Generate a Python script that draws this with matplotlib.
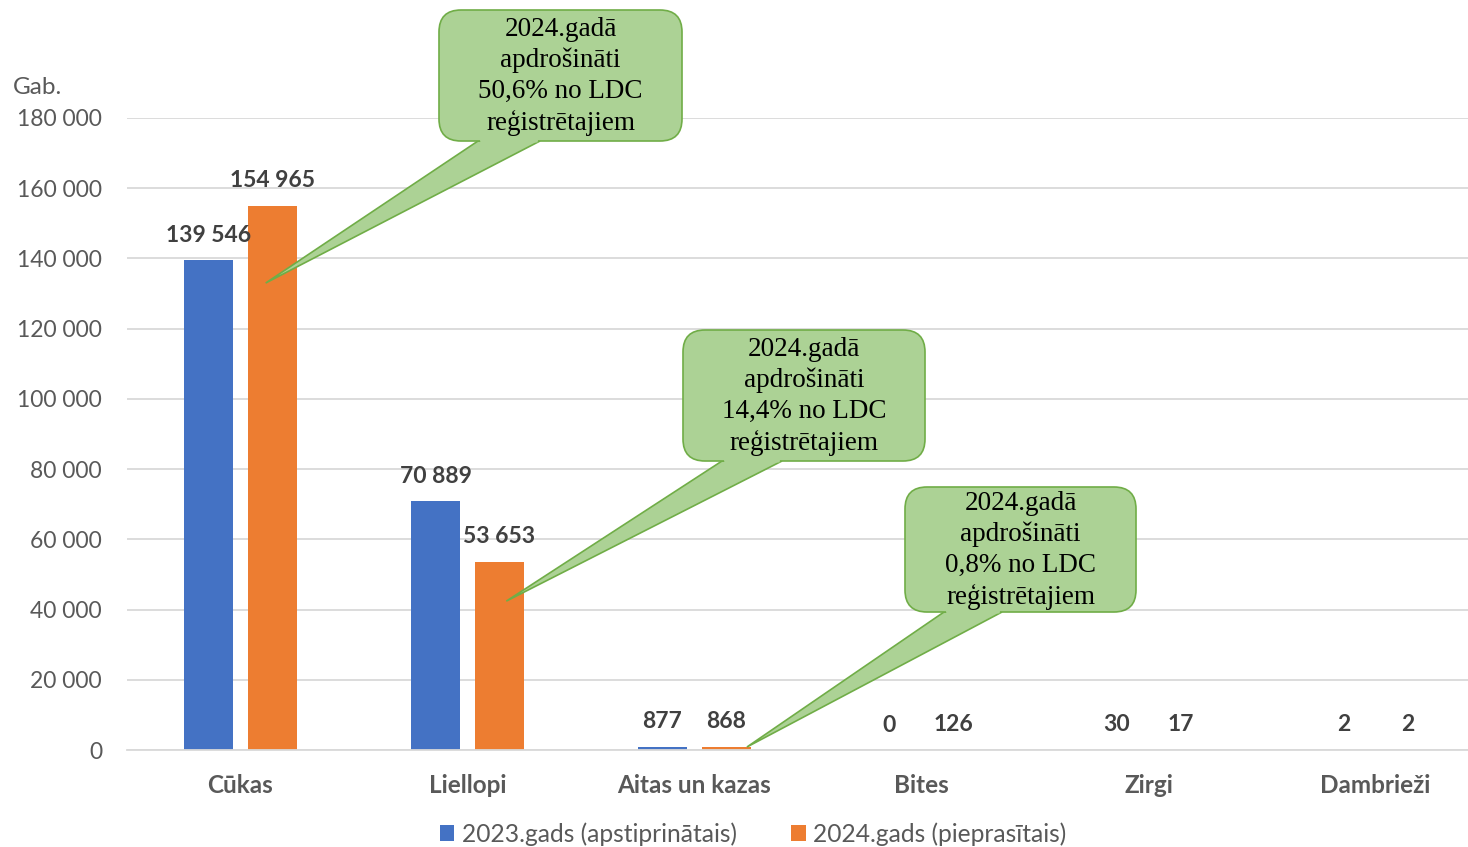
import numpy as np
import matplotlib
matplotlib.use("Agg")
import matplotlib.pyplot as plt
import matplotlib.transforms as mtransforms
from matplotlib.patches import FancyBboxPatch, Polygon

# data
categories = ["Cūkas", "Liellopi", "Aitas un kazas", "Bites", "Zirgi", "Dambrieži"]
values_2023 = [139546, 70889, 877, 0, 30, 2]
values_2024 = [154965, 53653, 868, 126, 17, 2]
series_names = ["2023.gads (apstiprinātais)", "2024.gads (pieprasītais)"]
y_ticks = [0, 20000, 40000, 60000, 80000, 100000, 120000, 140000, 160000, 180000]
callout_texts = [
    "2024.gadā\napdrošināti\n50,6% no LDC\nreģistrētajiem",
    "2024.gadā\napdrošināti\n14,4% no LDC\nreģistrētajiem",
    "2024.gadā\napdrošināti\n0,8% no LDC\nreģistrētajiem",
]

BLUE = "#4472C4"
ORANGE = "#ED7D31"
GRID = "#D9D9D9"
TXT = "#595959"
LBL = "#404040"
BOX_FILL = "#ACD295"
BOX_EDGE = "#70AD47"

W, H = 1468, 847
plt.rcParams['font.family'] = ['Lato', 'DejaVu Sans']

fig = plt.figure(figsize=(W / 100, H / 100), dpi=100)
ax = fig.add_axes([127 / W, 1 - 750 / H, 1362 / W, 632 / H])

x = np.arange(len(categories))
bw = 0.22
off = 0.141
b1 = ax.bar(x - off, values_2023, bw, color=BLUE, label=series_names[0], zorder=2)
b2 = ax.bar(x + off, values_2024, bw, color=ORANGE, label=series_names[1], zorder=2)

for bars, vals in ((b1, values_2023), (b2, values_2024)):
    for rect, v in zip(bars, vals):
        ax.annotate(f"{v:,}".replace(",", " "),
                    (rect.get_x() + rect.get_width() / 2, v),
                    xytext=(0, 18), textcoords="offset points",
                    ha="center", va="center", fontsize=16.5, fontweight="bold",
                    color=LBL, zorder=3)

ax.set_xlim(-0.5, len(categories) - 0.5)
ax.set_ylim(0, 180000)
ax.set_yticks(y_ticks)
ax.set_yticklabels([f"{t:,}".replace(",", " ") for t in y_ticks])
ax.set_xticks(x)
ax.set_xticklabels(categories, fontweight="bold")
ax.tick_params(axis="y", length=0, labelsize=16.5, labelcolor=TXT, pad=18)
ax.tick_params(axis="x", length=0, labelsize=17.5, labelcolor=TXT, pad=17)
ax.yaxis.grid(True, color=GRID, linewidth=1.3, zorder=0)
ax.set_axisbelow(True)
for side in ("top", "right", "left"):
    ax.spines[side].set_visible(False)
ax.spines["bottom"].set_color(GRID)
ax.spines["bottom"].set_linewidth(1.3)

fig.text(13 / W, 1 - 88 / H, "Gab.", fontsize=17.5, color=TXT, ha="left", va="center")

fig.legend(handles=[b1, b2], labels=series_names, loc="center",
           bbox_to_anchor=(753 / W, 1 - 834 / H), ncol=2, frameon=False,
           fontsize=17.7, labelcolor=TXT, handlelength=0.6, handleheight=0.6,
           handletextpad=0.3, columnspacing=2.2, borderpad=0)

# callouts drawn in image-pixel coordinates (y down)
pix = mtransforms.Affine2D().scale(1 / W, -1 / H).translate(0, 1) + fig.transFigure

def callout(box, base, tip_data, text):
    x0, y0, x1, y1 = box
    tx, ty = ax.transData.transform(tip_data)
    tip = (tx, H - ty)
    bl, br = base
    wedge = Polygon([(bl, y1), (br, y1), tip], closed=True, transform=pix,
                    facecolor=BOX_FILL, edgecolor=BOX_EDGE, linewidth=1.2, zorder=5)
    fig.add_artist(wedge)
    r = 22
    patch = FancyBboxPatch((x0 + r, y0 + r), (x1 - x0) - 2 * r, (y1 - y0) - 2 * r,
                           boxstyle=f"round,pad={r},rounding_size={r}", transform=pix,
                           facecolor=BOX_FILL, edgecolor=BOX_EDGE, linewidth=1.2, zorder=6)
    fig.add_artist(patch)
    cover = Polygon([(bl + 1.5, y1 - 3), (br - 1.5, y1 - 3), (br - 2.5, y1 + 1.5),
                     (bl + 2.5, y1 + 1.5)], closed=True, transform=pix,
                    facecolor=BOX_FILL, edgecolor="none", zorder=7)
    fig.add_artist(cover)
    fig.text((x0 + x1) / 2 / W, 1 - ((y0 + y1) / 2 + 1) / H, text, ha="center", va="center",
             fontsize=19.5, family=["Liberation Serif", "DejaVu Serif"], color="black",
             linespacing=1.3, zorder=8)

callout((439, 10, 682, 141), (478, 540), (0 + off - 0.03, 133000), callout_texts[0])
callout((683, 330, 925, 461), (722, 782), (1 + off + 0.03, 42400), callout_texts[1])
callout((905, 487, 1136, 612), (944, 1002), (2 + off + 0.09, 850), callout_texts[2])

fig.savefig("out.png", dpi=100)
